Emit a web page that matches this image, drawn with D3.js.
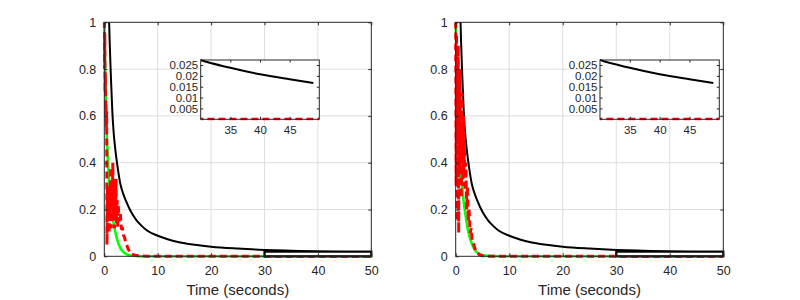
<!DOCTYPE html>
<html lang="en">
<head>
    <meta charset="UTF-8">
    <script src="https://d3js.org/d3.v7.min.js"></script>
    <style>
        body { margin: 0; background: #fff; }
        text { font-family: "Liberation Sans", Arial, sans-serif; fill: #262626; }
    </style>
</head>
<body>
    <svg width="800" height="300"></svg>

    <script>
        // black curve (same in both panels)
        let tBlack = [0.85, 1.0, 1.25, 1.5, 1.75, 2, 2.5, 3, 3.5, 4, 5, 6, 7, 8, 10, 12, 14, 17, 20, 25, 30, 35, 40, 45, 49];
        let vBlack = [1.05, 0.92, 0.76, 0.62, 0.53, 0.47, 0.38, 0.31, 0.27, 0.24, 0.19, 0.155, 0.13, 0.11, 0.088, 0.072, 0.06, 0.049, 0.041, 0.033, 0.0273, 0.0237, 0.0207, 0.0184, 0.0167];

        // green curves
        let tGreen = [0, 0.25, 0.5, 0.75, 1, 1.25, 1.5, 1.75, 2, 2.5, 3, 3.5, 4, 5, 6, 8, 10, 20, 30, 40, 50];
        let greenLeft = [1, 0.7, 0.5, 0.38, 0.29, 0.23, 0.18, 0.14, 0.11, 0.065, 0.036, 0.02, 0.011, 0.003, 0.001, 0, 0, 0, 0, 0, 0];
        let greenRight = [1, 0.74, 0.56, 0.44, 0.35, 0.29, 0.23, 0.19, 0.15, 0.09, 0.055, 0.03, 0.017, 0.006, 0.002, 0, 0, 0, 0, 0, 0];

        // red noisy curves
        let tRedLeft = [0, 0.05, 0.1, 0.15, 0.2, 0.25, 0.3, 0.35, 0.45, 0.5, 0.6, 0.7, 0.8, 0.9, 1.0, 1.1, 1.2, 1.3, 1.4, 1.5, 1.6, 1.7, 1.8, 1.9, 2.0, 2.1, 2.2, 2.3, 2.4, 2.5, 2.6, 2.8, 3.0, 3.2, 3.4, 3.6, 3.8, 4.0, 4.5, 5.0, 6.0, 7.0, 8, 10, 20, 30, 40, 50];
        let vRedLeft = [1.1, 0.8, 0.95, 0.7, 0.78, 0.6, 0.66, 0.55, 0.62, 0.05, 0.3, 0.15, 0.28, 0.1, 0.3, 0.18, 0.38, 0.12, 0.3, 0.2, 0.4, 0.16, 0.32, 0.12, 0.28, 0.18, 0.33, 0.14, 0.24, 0.12, 0.22, 0.15, 0.18, 0.12, 0.12, 0.09, 0.08, 0.06, 0.03, 0.01, 0.003, 0.001, 0, 0, 0, 0, 0, 0];
        let tRedRight = [0, 0.08, 0.16, 0.24, 0.32, 0.4, 0.48, 0.56, 0.64, 0.72, 0.8, 0.88, 0.96, 1.04, 1.12, 1.2, 1.28, 1.36, 1.44, 1.52, 1.6, 1.75, 1.9, 2.05, 2.2, 2.35, 2.5, 2.7, 2.9, 3.1, 3.4, 3.7, 4.0, 4.5, 5, 6, 10, 20, 30, 40, 50];
        let vRedRight = [1.05, 0.3, 0.95, 0.15, 0.85, 0.5, 0.9, 0.1, 0.75, 0.35, 0.8, 0.45, 0.65, 0.25, 0.7, 0.4, 0.55, 0.3, 0.6, 0.35, 0.5, 0.28, 0.4, 0.2, 0.3, 0.15, 0.2, 0.1, 0.12, 0.06, 0.05, 0.025, 0.015, 0.006, 0.002, 0, 0, 0, 0, 0, 0];

        let xTicks = [0, 10, 20, 30, 40, 50];
        let yTicks = [0, 0.2, 0.4, 0.6, 0.8, 1];
        let insetXTicks = [35, 40, 45];
        let insetYTicks = [0.005, 0.01, 0.015, 0.02, 0.025];
        let zoomBox = [30, 50, 0, 0.02];

        let svg = d3.select("svg");
        let plotTop = 22.3, plotBottom = 256.3;
        let panels = [
            { left: 104.3, right: 371.3, insetLeft: 200.7, insetRight: 319.3, green: greenLeft, tRed: tRedLeft, vRed: vRedLeft },
            { left: 455.7, right: 723.3, insetLeft: 600, insetRight: 719.3, green: greenRight, tRed: tRedRight, vRed: vRedRight }
        ];
        let insetTop = 60, insetBottom = 119.3;

        function pts(ts, vs) { return ts.map((t, i) => [t, vs[i]]); }

        panels.forEach((p, k) => {
            let x = d3.scaleLinear().domain([0, 50]).range([p.left, p.right]);
            let y = d3.scaleLinear().domain([0, 1]).range([plotBottom, plotTop]);
            let g = svg.append("g");

            // grid
            g.selectAll(".gx").data(xTicks.slice(1, -1)).enter().append("line")
                .attr("x1", d => x(d)).attr("x2", d => x(d)).attr("y1", plotTop).attr("y2", plotBottom)
                .attr("stroke", "#dedede").attr("stroke-width", 1);
            g.selectAll(".gy").data(yTicks.slice(1, -1)).enter().append("line")
                .attr("y1", d => y(d)).attr("y2", d => y(d)).attr("x1", p.left).attr("x2", p.right)
                .attr("stroke", "#dedede").attr("stroke-width", 1);

            let clipId = "clip" + k;
            svg.append("clipPath").attr("id", clipId).append("rect")
                .attr("x", p.left - 2).attr("y", plotTop).attr("width", p.right - p.left + 2).attr("height", plotBottom - plotTop + 3);

            let line = d3.line().x(d => x(d[0])).y(d => y(d[1]));
            let smooth = d3.line().x(d => x(d[0])).y(d => y(d[1])).curve(d3.curveMonotoneX);
            let data = g.append("g").attr("clip-path", "url(#" + clipId + ")");

            data.append("path").attr("d", smooth(pts(tBlack, vBlack)))
                .attr("fill", "none").attr("stroke", "#000").attr("stroke-width", 2);
            data.append("path").attr("d", smooth(pts(tGreen, p.green)))
                .attr("fill", "none").attr("stroke", "#00ff00").attr("stroke-width", 2.5);
            data.append("path").attr("d", line(pts(p.tRed, p.vRed)))
                .attr("fill", "none").attr("stroke", "#ff0000").attr("stroke-width", 3)
                .attr("stroke-dasharray", "7,4").attr("stroke-linejoin", "miter");

            // zoom rectangle
            g.append("rect")
                .attr("x", x(zoomBox[0])).attr("y", y(zoomBox[3]))
                .attr("width", x(zoomBox[1]) - x(zoomBox[0])).attr("height", y(zoomBox[2]) - y(zoomBox[3]))
                .attr("fill", "#fff").attr("stroke", "#000").attr("stroke-width", 2.2);

            // axes (ticks pointing inwards)
            g.append("g").attr("transform", "translate(0," + plotBottom + ")")
                .call(d3.axisBottom(x).tickValues(xTicks).tickSize(-3).tickPadding(10).tickSizeOuter(0));
            g.append("g").attr("transform", "translate(0," + plotTop + ")")
                .call(d3.axisTop(x).tickValues(xTicks).tickSize(-3).tickSizeOuter(0).tickFormat(""));
            g.append("g").attr("transform", "translate(" + p.left + ",0)")
                .call(d3.axisLeft(y).tickValues(yTicks).tickSize(-3).tickPadding(8).tickSizeOuter(0).tickFormat(d3.format("")));
            g.append("g").attr("transform", "translate(" + p.right + ",0)")
                .call(d3.axisRight(y).tickValues(yTicks).tickSize(-3).tickSizeOuter(0).tickFormat(""));
            g.selectAll(".domain").remove();
            g.selectAll(".tick line").attr("stroke", "#262626");
            g.selectAll(".tick text").attr("font-size", 12.5).attr("fill", "#262626")
                .attr("font-family", "Liberation Sans, Arial, sans-serif");
            g.append("rect").attr("x", p.left).attr("y", plotTop)
                .attr("width", p.right - p.left).attr("height", plotBottom - plotTop)
                .attr("fill", "none").attr("stroke", "#262626").attr("stroke-width", 1);

            g.append("text").attr("x", (p.left + p.right) / 2).attr("y", 295)
                .attr("text-anchor", "middle").attr("font-size", 15).text("Time (seconds)");

            // inset
            let xi = d3.scaleLinear().domain([30, 50]).range([p.insetLeft, p.insetRight]);
            let yi = d3.scaleLinear().domain([0, 0.0273]).range([insetBottom, insetTop]);
            let gi = svg.append("g");
            gi.append("rect").attr("x", p.insetLeft).attr("y", insetTop)
                .attr("width", p.insetRight - p.insetLeft).attr("height", insetBottom - insetTop)
                .attr("fill", "#fff");
            let clipI = "clipI" + k;
            svg.append("clipPath").attr("id", clipI).append("rect")
                .attr("x", p.insetLeft).attr("y", insetTop - 1)
                .attr("width", p.insetRight - p.insetLeft).attr("height", insetBottom - insetTop + 2);
            let li = d3.line().x(d => xi(d[0])).y(d => yi(d[1]));
            let si = d3.line().x(d => xi(d[0])).y(d => yi(d[1])).curve(d3.curveMonotoneX);
            let di = gi.append("g").attr("clip-path", "url(#" + clipI + ")");
            di.append("path").attr("d", li(pts(p.tRed, p.vRed).filter(d => d[0] >= 20)))
                .attr("fill", "none").attr("stroke", "#ff0000").attr("stroke-width", 3)
                .attr("stroke-dasharray", "7,4");
            di.append("path").attr("d", si(pts(tBlack, vBlack).filter(d => d[0] >= 25)))
                .attr("fill", "none").attr("stroke", "#000").attr("stroke-width", 2);

            gi.append("g").attr("transform", "translate(0," + insetBottom + ")")
                .call(d3.axisBottom(xi).tickValues(insetXTicks).tickSize(-2.5).tickPadding(6.5).tickSizeOuter(0));
            gi.append("g").attr("transform", "translate(0," + insetTop + ")")
                .call(d3.axisTop(xi).tickValues(insetXTicks).tickSize(-2.5).tickSizeOuter(0).tickFormat(""));
            gi.append("g").attr("transform", "translate(" + p.insetLeft + ",0)")
                .call(d3.axisLeft(yi).tickValues(insetYTicks).tickSize(-2.5).tickPadding(2.5).tickSizeOuter(0).tickFormat(d3.format("")));
            gi.append("g").attr("transform", "translate(" + p.insetRight + ",0)")
                .call(d3.axisRight(yi).tickValues(insetYTicks).tickSize(-2.5).tickSizeOuter(0).tickFormat(""));
            gi.selectAll(".domain").remove();
            gi.selectAll(".tick line").attr("stroke", "#262626");
            gi.selectAll(".tick text").attr("font-size", 11.5).attr("fill", "#262626")
                .attr("font-family", "Liberation Sans, Arial, sans-serif");
            gi.append("rect").attr("x", p.insetLeft).attr("y", insetTop)
                .attr("width", p.insetRight - p.insetLeft).attr("height", insetBottom - insetTop)
                .attr("fill", "none").attr("stroke", "#262626").attr("stroke-width", 1);
        });
    </script>
</body>
</html>
